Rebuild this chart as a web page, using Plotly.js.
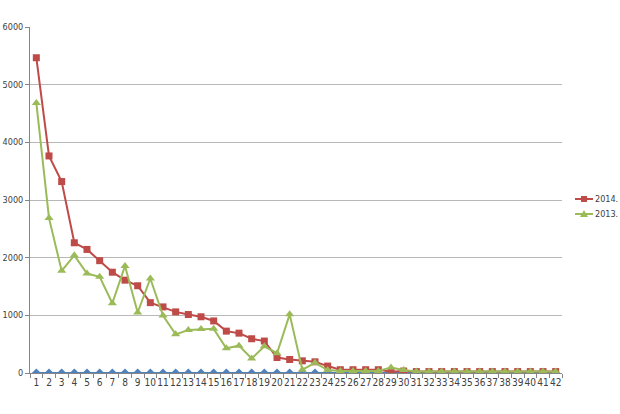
<!DOCTYPE html>
<html><head><meta charset="utf-8">
<script src="https://cdn.plot.ly/plotly-3.0.1.min.js"></script>
<style>html,body{margin:0;padding:0;background:#fff}</style>
</head><body>
<div id="chart" style="width:620px;height:414px"></div>
<script>
const categories = Array.from({length:42},(_,i)=>String(i+1));
const s2014 = [5467,3764,3320,2258,2143,1948,1748,1610,1513,1220,1146,1060,1014,975,903,726,691,594,554,269,234,211,194,120,57,57,57,57,23,34,25,25,25,25,25,25,25,25,25,25,25,25];
const s2013 = [4683,2686,1771,2040,1725,1668,1209,1857,1049,1639,997,670,745,762,766,429,474,251,463,343,1017,57,177,51,34,34,34,34,97,51,25,25,25,25,25,25,25,25,25,25,25,25];
const sBase = Array(42).fill(0);
const names = ["2014.","2013."];
const colors = ['#BE4B48','#9BBB59'];

const L=30, R=58, T=27, B=41, W=620, H=414;
const pw=W-L-R, ph=H-T-B;
const px = v => (v-L)/pw;          // pixel -> paper x
const py = v => (H-B-v)/ph;        // pixel -> paper y

const traces = [
 {x:categories,y:sBase,type:'scatter',mode:'lines+markers',showlegend:false,
  line:{color:'#4F81BD',width:2},marker:{symbol:'diamond',size:7,color:'#4F81BD'}},
 {x:categories,y:s2014,name:names[0],type:'scatter',mode:'lines+markers',showlegend:false,
  line:{color:colors[0],width:2},marker:{symbol:'square',size:7,color:colors[0]}},
 {x:categories,y:s2013,name:names[1],type:'scatter',mode:'lines+markers',showlegend:false,
  line:{color:colors[1],width:2},marker:{symbol:'triangle-up',size:8,color:colors[1]}}
];

// custom legend (Excel-like, short line sample)
const legY=[199,214];
const shapes=[], annotations=[];
names.forEach((n,i)=>{
  const y=legY[i];
  shapes.push({type:'line',xref:'paper',yref:'paper',x0:px(575),x1:px(593),y0:py(y),y1:py(y),
    line:{color:colors[i],width:2}});
  if(i===0){
    shapes.push({type:'rect',xref:'paper',yref:'paper',x0:px(581),x1:px(587),y0:py(y+3),y1:py(y-3),
      fillcolor:colors[i],line:{width:0}});
  } else {
    shapes.push({type:'path',xref:'paper',yref:'paper',
      path:`M ${px(580)} ${py(y+3)} L ${px(588)} ${py(y+3)} L ${px(584)} ${py(y-4)} Z`,
      fillcolor:colors[i],line:{width:0}});
  }
  annotations.push({xref:'paper',yref:'paper',x:px(594),y:py(y),xanchor:'left',yanchor:'middle',
    text:n,showarrow:false,borderpad:0,font:{size:9,color:'#404040'}});
});

const layout = {
 width:W,height:H,
 margin:{l:L,r:R,t:T,b:B,autoexpand:false},
 paper_bgcolor:'#fff',plot_bgcolor:'#fff',
 font:{family:'Liberation Sans Narrow, DejaVu Sans Condensed, Open Sans, sans-serif',size:10,color:'#404040'},
 showlegend:false,
 shapes:shapes, annotations:annotations,
 xaxis:{type:'category',range:[-0.5,41.5],tickmode:'linear',dtick:1,tickangle:0,showgrid:false,showline:true,linecolor:'#868686',linewidth:1,
   ticks:'outside',tickson:'boundaries',ticklen:4,tickcolor:'#868686',
   tickfont:{size:10},zeroline:false,fixedrange:true},
 yaxis:{range:[0,6000],dtick:1000,showgrid:true,gridcolor:'#b8b8b8',gridwidth:1,
   showline:true,linecolor:'#868686',linewidth:1,ticks:'outside',ticklen:4,tickcolor:'#868686',
   zeroline:false,tickfont:{size:9},fixedrange:true}
};
Plotly.newPlot('chart',traces,layout,{displayModeBar:false,staticPlot:true});
</script>
</body></html>
